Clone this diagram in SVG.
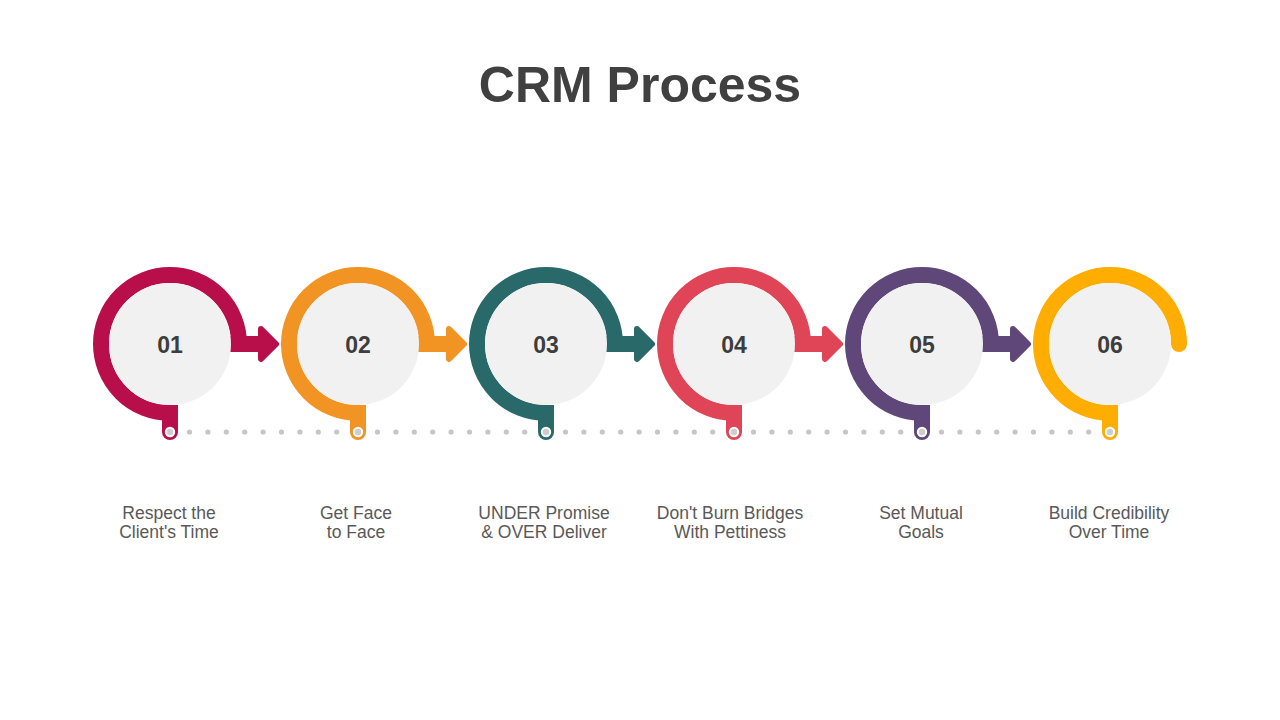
<svg xmlns="http://www.w3.org/2000/svg" width="1280" height="720" viewBox="0 0 1280 720">
<style>
.ring{fill:none;stroke-width:16}
.inner{fill:#F1F1F1}
.num{font-family:"Liberation Sans",Arial,sans-serif;font-weight:bold;font-size:23px;fill:#3D3D3D;text-anchor:middle}
.lbl{font-family:"Liberation Sans",Arial,sans-serif;font-size:17.5px;fill:#595959;text-anchor:middle}
.title{font-family:"Liberation Sans",Arial,sans-serif;font-weight:bold;font-size:50px;fill:#404040;text-anchor:middle}
.dot{fill:#C6C6C6}
.pin{fill:#CDCDCD;stroke:#FFFFFF;stroke-width:2}
.head{stroke-width:6;stroke-linejoin:round}
</style>
<rect width="1280" height="720" fill="#FFFFFF"/>
<text class="title" x="640" y="102">CRM Process</text>

<g id="connectors">
  <g id="dots">
    <circle class="dot" cx="189.5" cy="432" r="2.6"/><circle class="dot" cx="207.9" cy="432" r="2.6"/><circle class="dot" cx="226.3" cy="432" r="2.6"/><circle class="dot" cx="244.7" cy="432" r="2.6"/><circle class="dot" cx="263.1" cy="432" r="2.6"/><circle class="dot" cx="281.5" cy="432" r="2.6"/><circle class="dot" cx="299.9" cy="432" r="2.6"/><circle class="dot" cx="318.3" cy="432" r="2.6"/><circle class="dot" cx="336.7" cy="432" r="2.6"/>
    <circle class="dot" cx="377.5" cy="432" r="2.6"/><circle class="dot" cx="395.9" cy="432" r="2.6"/><circle class="dot" cx="414.3" cy="432" r="2.6"/><circle class="dot" cx="432.7" cy="432" r="2.6"/><circle class="dot" cx="451.1" cy="432" r="2.6"/><circle class="dot" cx="469.5" cy="432" r="2.6"/><circle class="dot" cx="487.9" cy="432" r="2.6"/><circle class="dot" cx="506.3" cy="432" r="2.6"/><circle class="dot" cx="524.7" cy="432" r="2.6"/>
    <circle class="dot" cx="565.5" cy="432" r="2.6"/><circle class="dot" cx="583.9" cy="432" r="2.6"/><circle class="dot" cx="602.3" cy="432" r="2.6"/><circle class="dot" cx="620.7" cy="432" r="2.6"/><circle class="dot" cx="639.1" cy="432" r="2.6"/><circle class="dot" cx="657.5" cy="432" r="2.6"/><circle class="dot" cx="675.9" cy="432" r="2.6"/><circle class="dot" cx="694.3" cy="432" r="2.6"/><circle class="dot" cx="712.7" cy="432" r="2.6"/>
    <circle class="dot" cx="753.5" cy="432" r="2.6"/><circle class="dot" cx="771.9" cy="432" r="2.6"/><circle class="dot" cx="790.3" cy="432" r="2.6"/><circle class="dot" cx="808.7" cy="432" r="2.6"/><circle class="dot" cx="827.1" cy="432" r="2.6"/><circle class="dot" cx="845.5" cy="432" r="2.6"/><circle class="dot" cx="863.9" cy="432" r="2.6"/><circle class="dot" cx="882.3" cy="432" r="2.6"/><circle class="dot" cx="900.7" cy="432" r="2.6"/>
    <circle class="dot" cx="941.5" cy="432" r="2.6"/><circle class="dot" cx="959.9" cy="432" r="2.6"/><circle class="dot" cx="978.3" cy="432" r="2.6"/><circle class="dot" cx="996.7" cy="432" r="2.6"/><circle class="dot" cx="1015.1" cy="432" r="2.6"/><circle class="dot" cx="1033.5" cy="432" r="2.6"/><circle class="dot" cx="1051.9" cy="432" r="2.6"/><circle class="dot" cx="1070.3" cy="432" r="2.6"/><circle class="dot" cx="1088.7" cy="432" r="2.6"/>
  </g>
  <g id="arrow-1-2" fill="#B80F4A" stroke="#B80F4A">
    <rect x="225" y="336" width="36" height="16" stroke="none"/>
    <polygon class="head" points="261,329 276,344 261,359"/>
  </g>
  <g id="arrow-2-3" fill="#F29423" stroke="#F29423">
    <rect x="413" y="336" width="36" height="16" stroke="none"/>
    <polygon class="head" points="449,329 464,344 449,359"/>
  </g>
  <g id="arrow-3-4" fill="#29696A" stroke="#29696A">
    <rect x="601" y="336" width="36" height="16" stroke="none"/>
    <polygon class="head" points="637,329 652,344 637,359"/>
  </g>
  <g id="arrow-4-5" fill="#E04557" stroke="#E04557">
    <rect x="789" y="336" width="36" height="16" stroke="none"/>
    <polygon class="head" points="825,329 840,344 825,359"/>
  </g>
  <g id="arrow-5-6" fill="#5F4879" stroke="#5F4879">
    <rect x="977" y="336" width="36" height="16" stroke="none"/>
    <polygon class="head" points="1013,329 1028,344 1013,359"/>
  </g>
</g>

<g id="node-1">
  <path class="ring" stroke="#B80F4A" d="M239 344 A69 69 0 1 0 170 413"/>
  <path fill="#B80F4A" d="M162 405 V432 A8 8 0 0 0 178 432 V405 Z"/>
  <circle class="inner" cx="170" cy="344" r="61"/>
  <text class="num" x="170" y="352.5">01</text>
  <circle class="pin" cx="170" cy="432" r="4.2"/>
  <text class="lbl" x="169" y="519">Respect the</text>
  <text class="lbl" x="169" y="538">Client's Time</text>
</g>
<g id="node-2">
  <path class="ring" stroke="#F29423" d="M427 344 A69 69 0 1 0 358 413"/>
  <path fill="#F29423" d="M350 405 V432 A8 8 0 0 0 366 432 V405 Z"/>
  <circle class="inner" cx="358" cy="344" r="61"/>
  <text class="num" x="358" y="352.5">02</text>
  <circle class="pin" cx="358" cy="432" r="4.2"/>
  <text class="lbl" x="356" y="519">Get Face</text>
  <text class="lbl" x="356" y="538">to Face</text>
</g>
<g id="node-3">
  <path class="ring" stroke="#29696A" d="M615 344 A69 69 0 1 0 546 413"/>
  <path fill="#29696A" d="M538 405 V432 A8 8 0 0 0 554 432 V405 Z"/>
  <circle class="inner" cx="546" cy="344" r="61"/>
  <text class="num" x="546" y="352.5">03</text>
  <circle class="pin" cx="546" cy="432" r="4.2"/>
  <text class="lbl" x="544" y="519">UNDER Promise</text>
  <text class="lbl" x="544" y="538">&amp; OVER Deliver</text>
</g>
<g id="node-4">
  <path class="ring" stroke="#E04557" d="M803 344 A69 69 0 1 0 734 413"/>
  <path fill="#E04557" d="M726 405 V432 A8 8 0 0 0 742 432 V405 Z"/>
  <circle class="inner" cx="734" cy="344" r="61"/>
  <text class="num" x="734" y="352.5">04</text>
  <circle class="pin" cx="734" cy="432" r="4.2"/>
  <text class="lbl" x="730" y="519">Don't Burn Bridges</text>
  <text class="lbl" x="730" y="538">With Pettiness</text>
</g>
<g id="node-5">
  <path class="ring" stroke="#5F4879" d="M991 344 A69 69 0 1 0 922 413"/>
  <path fill="#5F4879" d="M914 405 V432 A8 8 0 0 0 930 432 V405 Z"/>
  <circle class="inner" cx="922" cy="344" r="61"/>
  <text class="num" x="922" y="352.5">05</text>
  <circle class="pin" cx="922" cy="432" r="4.2"/>
  <text class="lbl" x="921" y="519">Set Mutual</text>
  <text class="lbl" x="921" y="538">Goals</text>
</g>
<g id="node-6">
  <path class="ring" stroke="#FFAD00" d="M1179 344 A69 69 0 1 0 1110 413"/>
  <circle fill="#FFAD00" cx="1179" cy="344" r="8"/>
  <path fill="#FFAD00" d="M1102 405 V432 A8 8 0 0 0 1118 432 V405 Z"/>
  <circle class="inner" cx="1110" cy="344" r="61"/>
  <text class="num" x="1110" y="352.5">06</text>
  <circle class="pin" cx="1110" cy="432" r="4.2"/>
  <text class="lbl" x="1109" y="519">Build Credibility</text>
  <text class="lbl" x="1109" y="538">Over Time</text>
</g>
</svg>
